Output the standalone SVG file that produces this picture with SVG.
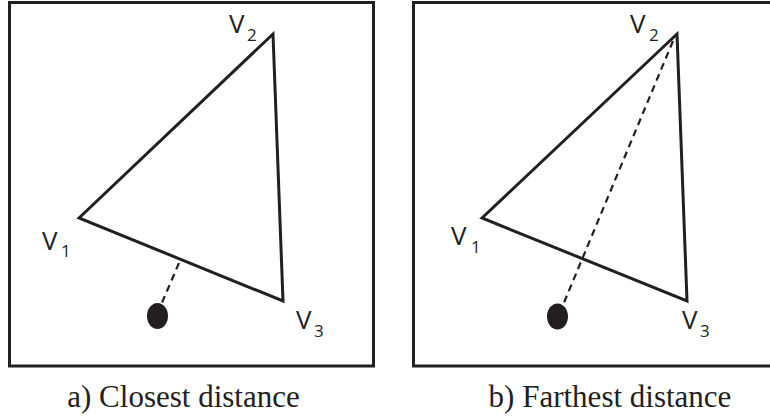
<svg xmlns="http://www.w3.org/2000/svg" width="770" height="419" viewBox="0 0 770 419">
<style>
.frame{fill:none;stroke:#231f20;stroke-width:3}
.tri{fill:none;stroke:#231f20;stroke-width:3;stroke-linejoin:miter}
.dash{fill:none;stroke:#231f20;stroke-width:2.2;stroke-dasharray:7 5}
.dot{fill:#231f20}
.lbl{font-family:"Open Sans","Noto Sans",sans-serif;font-size:26px;fill:#231f20}
.sub{font-family:"Open Sans","Noto Sans",sans-serif;font-size:17px;fill:#231f20}
.cap{font-family:"Liberation Serif","Times New Roman",serif;font-size:31px;fill:#231f20;text-anchor:middle}
</style>
<rect width="770" height="419" fill="#fff"/>
<g id="panel-a">
  <rect class="frame" x="9.5" y="2.5" width="364" height="363.5"/>
  <g id="triangle-a">
    <polygon class="tri" points="79,218 273,34 283,301"/>
  </g>
  <g id="point-a">
    <ellipse class="dot" cx="157.5" cy="316" rx="10.5" ry="13"/>
  </g>
  <g id="label-a-v1"><text class="lbl" x="42" y="250">V</text><text class="sub" x="61" y="257">1</text></g>
  <g id="label-a-v2"><text class="lbl" x="229" y="33">V</text><text class="sub" x="247" y="41">2</text></g>
  <g id="label-a-v3"><text class="lbl" x="296" y="329">V</text><text class="sub" x="314" y="337">3</text></g>
  <text class="cap" x="183.5" y="407">a) Closest distance</text>
</g>
<g id="panel-b">
  <rect class="frame" x="413.5" y="2.5" width="360" height="363.5"/>
  <g id="triangle-b">
    <polygon class="tri" points="482,218 677,34 687,301"/>
  </g>
  <g id="point-b">
    <ellipse class="dot" cx="557.5" cy="316.5" rx="10.5" ry="13"/>
  </g>
  <g id="label-b-v1"><text class="lbl" x="451" y="245">V</text><text class="sub" x="471" y="253">1</text></g>
  <g id="label-b-v2"><text class="lbl" x="630" y="33">V</text><text class="sub" x="649" y="41">2</text></g>
  <g id="label-b-v3"><text class="lbl" x="682" y="329">V</text><text class="sub" x="700" y="337">3</text></g>
  <text class="cap" x="610" y="407">b) Farthest distance</text>
</g>
<g id="connectors">
  <line class="dash" x1="179" y1="263" x2="161" y2="305"/>
  <line class="dash" x1="673" y1="41" x2="563" y2="305"/>
</g>
</svg>
